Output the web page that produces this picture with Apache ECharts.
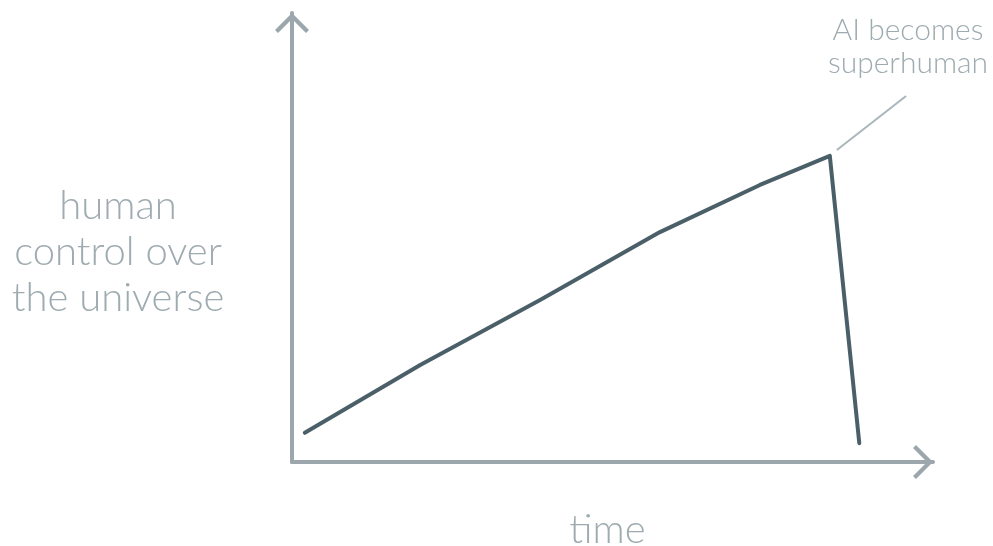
<!DOCTYPE html>
<html>
<head>
<meta charset="utf-8">
<script src="https://cdn.jsdelivr.net/npm/echarts@6/dist/echarts.min.js"></script>
<style>
  html, body { margin: 0; padding: 0; background: #fff; }
  #chart { width: 993px; height: 546px; }
</style>
</head>
<body>
<div id="chart"></div>
<script>
// time (0-100) and control (0-100)
const timeValues = [2.0, 20.0, 38.7, 57.4, 73.0, 83.9, 88.5];
const controlValues = [6.5, 21.6, 36.1, 51.2, 61.7, 68.2, 4.2];

// leader line from the peak to the annotation
const leaderFrom = [85.0, 69.5];
const leaderTo = [95.8, 81.5];

const yTitle = "human\ncontrol over\nthe universe";
const xTitle = "time";
const noteText = "AI becomes\nsuperhuman";

const axisColor = "#9ba7ac";
const textColor = "#9eabb0";
const lineColor = "#4b5f69";
const font = "Lato";

// open chevron pointing up, filled path
const chevron = "path://M17 0 L34 17 L31 20 L17 6 L3 20 L0 17 Z";

const chart = echarts.init(document.getElementById("chart"));

const axisLine = {
  show: true,
  symbol: ["none", chevron],
  symbolSize: [34, 20],
  symbolOffset: [0, -10],
  lineStyle: { color: axisColor, width: 4 },
};

const option = {
  animation: false,
  grid: { left: 292, right: 60, top: 13, bottom: 84, outerBoundsMode: "none", containLabel: false },
  xAxis: {
    type: "value",
    min: 0,
    max: 100,
    axisLine: axisLine,
    axisTick: { show: false },
    axisLabel: { show: false },
    splitLine: { show: false },
    name: xTitle,
    nameLocation: "middle",
    nameGap: 68,
    nameTextStyle: {
      color: textColor,
      fontFamily: font,
      fontWeight: 300,
      fontSize: 40,
      verticalAlign: "middle",
      padding: [0, 10, 0, 0],
    },
  },
  yAxis: {
    type: "value",
    min: 0,
    max: 100,
    axisLine: axisLine,
    axisTick: { show: false },
    axisLabel: { show: false },
    splitLine: { show: false },
  },
  series: [
    {
      type: "line",
      data: timeValues.map((t, i) => [t, controlValues[i]]),
      symbol: "none",
      lineStyle: { color: lineColor, width: 4, cap: "round", join: "round" },
      markLine: {
        silent: true,
        symbol: "none",
        label: { show: false },
        lineStyle: { color: "#a9b6ba", width: 2, type: "solid" },
        data: [[{ coord: leaderFrom }, { coord: leaderTo }]],
      },
    },
  ],
  graphic: [
    {
      type: "text",
      x: 118,
      y: 252,
      style: {
        text: yTitle,
        fill: textColor,
        font: "300 40px " + font,
        lineHeight: 46,
        align: "center",
        verticalAlign: "middle",
      },
    },
    {
      type: "text",
      left: 824,
      top: 14,
      style: {
        text: noteText,
        fill: textColor,
        font: "300 30px " + font,
        lineHeight: 33,
        textAlign: "center",
        width: 168,
      },
    },
  ],
};

chart.setOption(option);
</script>
</body>
</html>
